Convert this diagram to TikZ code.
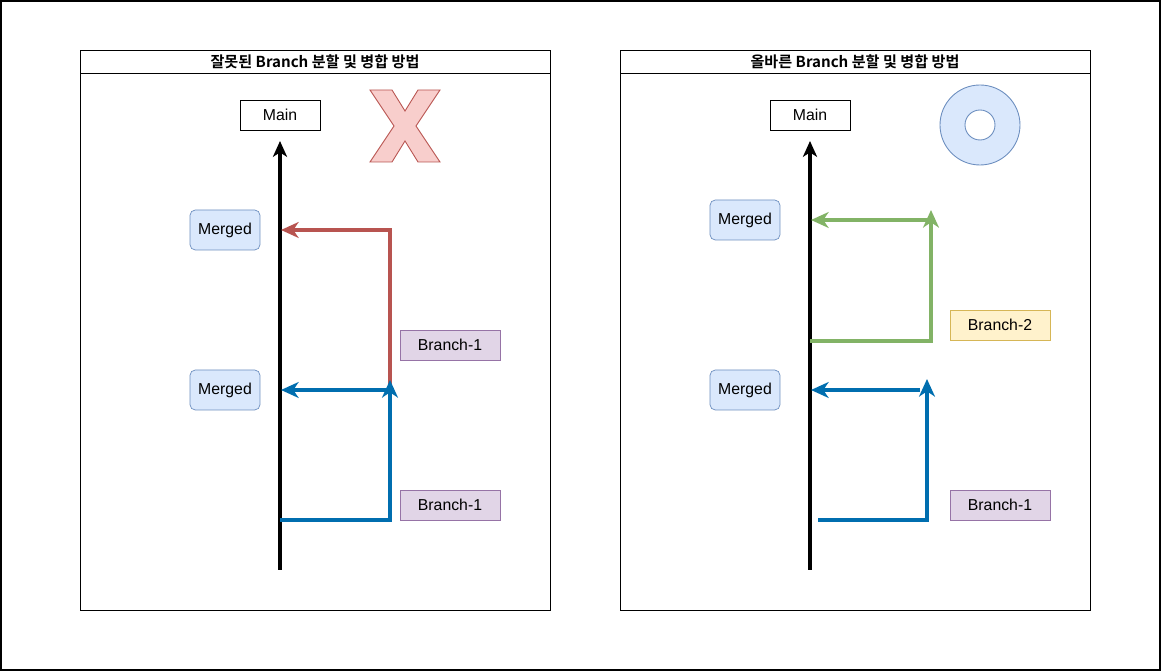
\documentclass[tikz,border=0pt]{standalone}
\usepackage{fontspec}
\setmainfont{Liberation Sans}
\newfontfamily\kr[BoldFont={Noto Sans CJK KR Bold}]{Noto Sans CJK KR}
\usepackage{tikz}
\usetikzlibrary{arrows.meta}

\definecolor{blueFill}{HTML}{DAE8FC}
\definecolor{blueLine}{HTML}{6C8EBF}
\definecolor{purpleFill}{HTML}{E1D5E7}
\definecolor{purpleLine}{HTML}{9673A6}
\definecolor{yellowFill}{HTML}{FFF2CC}
\definecolor{yellowLine}{HTML}{D6B656}
\definecolor{redFill}{HTML}{F8CECC}
\definecolor{redLine}{HTML}{B85450}
\definecolor{greenLine}{HTML}{82B366}
\definecolor{branchBlue}{HTML}{006EAF}

\tikzset{
  mainbox/.style={draw=black, fill=white, minimum width=1.6cm, minimum height=0.6cm, font=\small},
  mergedbox/.style={draw=blueLine, fill=blueFill, rounded corners=3pt, minimum width=1.4cm, minimum height=0.8cm, font=\small},
  branchbox/.style={draw=purpleLine, fill=purpleFill, minimum width=2cm, minimum height=0.6cm, font=\small},
  branchtwo/.style={draw=yellowLine, fill=yellowFill, minimum width=2cm, minimum height=0.6cm, font=\small},
  titlebar/.style={draw=black, minimum width=9.4cm, minimum height=0.46cm, inner sep=0pt, font=\kr\bfseries\fontsize{8.6}{10}\selectfont},
  trunk/.style={line width=2.2pt, black, -{Stealth[length=9pt,width=8pt,inset=2.5pt]}},
  flow/.style={line width=1.9pt, -{Stealth[length=10pt,width=9pt,inset=3pt]}}
}

\begin{document}
\begin{tikzpicture}[x=0.02cm, y=-0.02cm]
  \useasboundingbox (0,0) rectangle (1161,671);
  \draw[line width=0.6pt] (1,1) rectangle (1160,670);

  % left panel
  \draw[line width=0.5pt] (80,50) rectangle (550,610);
  \node[titlebar] (ltitle) at (315,61.5) {잘못된 Branch 분할 및 병합 방법};
  \node[mainbox] (lmain) at (280,115) {Main};
  \node[mergedbox] (lmergedA) at (225,230) {Merged};
  \node[mergedbox] (lmergedB) at (225,390) {Merged};
  \node[branchbox] (lbranchA) at (450,345) {Branch-1};
  \node[branchbox] (lbranchB) at (450,505) {Branch-1};
  \draw[draw=redLine, fill=redFill, line width=0.5pt]
    (370,90) -- (392,90) -- (405,111) -- (418,90) -- (440,90) -- (416,126)
    -- (440,162) -- (418,162) -- (405,141) -- (392,162) -- (370,162) -- (394,126) -- cycle;

  \coordinate (lbot) at (280,570);
  \coordinate (ltop) at (280,141);
  \coordinate (lout) at (280,520);
  \coordinate (lup) at (390,380);
  \coordinate (lturn) at (390,390);
  \coordinate (lin) at (281,390);
  \coordinate (lredin) at (281,230);
  \draw[trunk] (lbot) -- (ltop);
  \draw[flow, draw=redLine] (lturn) |- (lredin);
  \draw[flow, draw=branchBlue] (lout) -| (lup);
  \draw[flow, draw=branchBlue] (lturn) -- (lin);

  % right panel
  \draw[line width=0.5pt] (620,50) rectangle (1090,610);
  \node[titlebar] (rtitle) at (855,61.5) {올바른 Branch 분할 및 병합 방법};
  \node[mainbox] (rmain) at (810,115) {Main};
  \node[mergedbox] (rmergedA) at (745,220) {Merged};
  \node[mergedbox] (rmergedB) at (745,390) {Merged};
  \node[branchtwo] (rbranchA) at (1000,325) {Branch-2};
  \node[branchbox] (rbranchB) at (1000,505) {Branch-1};
  \draw[draw=blueLine, fill=blueFill, even odd rule, line width=0.5pt]
    (980,125) circle (40) (980,125) circle (15);

  \coordinate (rbot) at (810,570);
  \coordinate (rtop) at (810,141);
  \coordinate (rgout) at (810,341);
  \coordinate (rgup) at (931,210);
  \coordinate (rgturn) at (931,220);
  \coordinate (rgin) at (811,220);
  \coordinate (rbout) at (818,520);
  \coordinate (rbup) at (927,379);
  \coordinate (rbturn) at (920,390);
  \coordinate (rbin) at (811,390);
  \draw[trunk] (rbot) -- (rtop);
  \draw[flow, draw=greenLine] (rgout) -| (rgup);
  \draw[flow, draw=greenLine] (rgturn) -- (rgin);
  \draw[flow, draw=branchBlue] (rbout) -| (rbup);
  \draw[flow, draw=branchBlue] (rbturn) -- (rbin);
\end{tikzpicture}
\end{document}
